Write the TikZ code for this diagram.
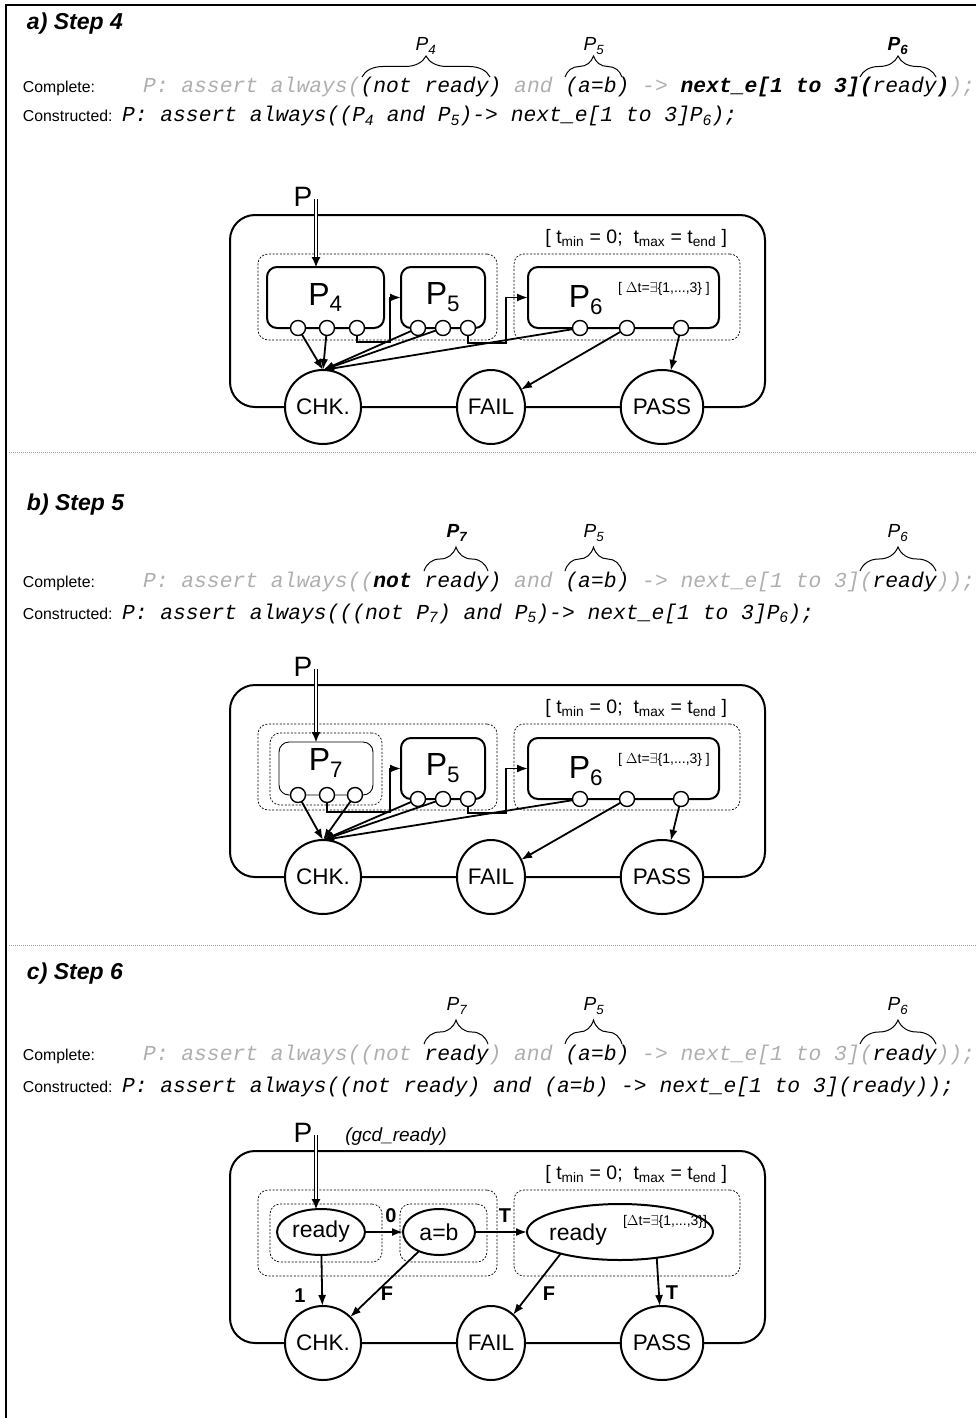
\documentclass[tikz,border=0pt]{standalone}
\usepackage{fontspec}
\setmainfont{Liberation Sans}
\setmonofont{Liberation Mono}
\usetikzlibrary{arrows.meta,shapes.geometric,decorations.pathreplacing}

\definecolor{codegray}{RGB}{175,175,175}
\definecolor{sepgray}{RGB}{150,150,150}
\newcommand{\gr}[1]{{\color{codegray}\relax#1}}
\newcommand{\sub}[1]{\textsubscript{\rmfamily #1}}
\frenchspacing

\begin{document}
\begin{tikzpicture}[x=1pt,y=-1pt,
    every node/.style={inner sep=0pt,outer sep=0pt},
    head/.style={font=\fontsize{23}{26}\selectfont\bfseries\itshape,anchor=base west},
    txt/.style={font=\fontsize{15.8}{18}\selectfont,anchor=base west},
    cod/.style={font=\fontsize{21.33}{24}\selectfont\ttfamily\itshape,anchor=base west},
    brl/.style={font=\fontsize{19}{21}\selectfont\itshape},
    br/.style={decorate,decoration={brace,amplitude=24pt},line width=1pt},
    outer/.style={draw,line width=2pt,rounded corners=25pt},
    tlbl/.style={font=\fontsize{19.5}{21}\selectfont,anchor=east},
    grp/.style={draw,line width=0.7pt,dash pattern=on 2pt off 1.6pt,rounded corners=10pt},
    blk/.style={draw,line width=2pt,rounded corners=10pt,font=\fontsize{32}{34}\selectfont},
    blkt/.style={font=\fontsize{32}{34}\selectfont},
    dtl/.style={font=\fontsize{14}{15}\selectfont},
    port/.style={circle,draw,fill=white,line width=1.4pt,minimum size=15pt},
    state/.style={ellipse,draw,fill=white,line width=2pt,minimum width=68pt,minimum height=74pt,font=\fontsize{22.5}{25}\selectfont},
    cond/.style={ellipse,draw,line width=2pt},
    etxt/.style={font=\fontsize{23}{26}\selectfont},
    bigp/.style={font=\fontsize{28}{30}\selectfont},
    con/.style={line width=1.8pt,-{Latex[length=11pt,width=8pt]}},
    feed/.style={double,double distance=2.4pt,line width=0.9pt,-{Latex[length=10pt,width=9pt]}},
    tag/.style={font=\fontsize{20}{22}\selectfont\bfseries},
    sep/.style={sepgray,line width=0.8pt,dash pattern=on 1pt off 1pt}]
  \useasboundingbox (0,0) rectangle (976,1418);

  % frame and separators
  \draw[line width=2pt] (6,1418) -- (6,5) -- (976,5);
  \draw[sep] (9,452) -- (976,452);
  \draw[sep] (9,945) -- (976,945);

  % common part of the three checkers
  \foreach \s/\dy in {a/0,b/470,c/936}{
    \begin{scope}[shift={(0,\dy)}]
      \draw[outer] (230,215) rectangle (765,407);
      \node[tlbl] (tm\s) at (727,238) {[ t\textsubscript{min} = 0;\ \ t\textsubscript{max} = t\textsubscript{end} ]};
      \node[grp,minimum width=239pt,minimum height=86pt] (gl\s) at (377.5,297) {};
      \node[grp,minimum width=226pt,minimum height=86pt] (gr\s) at (627,297) {};
      \node[state] (chk\s) at (323,407) {CHK.};
      \node[state] (fail\s) at (491,407) {FAIL};
      \node[state] (pass\s) at (662,407) {PASS};
      \node[bigp] (p\s) at (303,197) {P};
      \coordinate (in\s) at (316,199);
    \end{scope}
  }

  % a) Step 4
  \node[head] (hda) at (27,30) {a) Step 4};
  \node[txt] (cpa) at (23,93) {Complete:};
  \node[cod] (cca) at (143,93) {\gr{P: assert always(}(not ready)\gr{ and }(a=b)\gr{ -> }\textbf{next\_e[1 to 3](}ready\textbf{)}\gr{);}};
  \node[txt] (csa) at (23,122) {Constructed:};
  \node[cod] (cra) at (122,122) {P: assert always((P\sub{4} and P\sub{5})-> next\_e[1 to 3]P\sub{6});};
  \draw[br,decoration={amplitude=21pt}] (362,77) -- (490,77);
  \draw[br,decoration={amplitude=21pt}] (565,77) -- (622,77);
  \draw[br,decoration={amplitude=21pt}] (860,77) -- (936,77);
  \node[brl] (la4) at (426,46) {P\sub{4}};
  \node[brl] (la5) at (594,46) {P\sub{5}};
  \node[brl,font=\fontsize{19}{21}\selectfont\bfseries\itshape] (la6) at (898,46) {P\sub{6}};

  \node[blk,minimum width=117pt,minimum height=61pt] (b4a) at (325.5,297.5) {P\textsubscript{4}};
  \node[blk,minimum width=84pt,minimum height=61pt] (b5a) at (443,297.5) {P\textsubscript{5}};
  \node[blk,minimum width=191pt,minimum height=61pt] (b6a) at (623.5,297.5) {};
  \node[blkt] (t6a) at (586,300) {P\textsubscript{6}};
  \node[dtl] (d6a) at (664,289) {[ $\Delta$t=$\exists$\{1,...,3\} ]};
  \foreach \i/\x in {1/298,2/327,3/357} \node[port] (a4\i) at (\x,328) {};
  \foreach \i/\x in {1/418,2/443,3/468} \node[port] (a5\i) at (\x,328) {};
  \foreach \i/\x in {1/580,2/627,3/681} \node[port] (a6\i) at (\x,328) {};

  \draw[feed] (ina) -- (ina |- b4a.north);
  \draw[con] (a43.south) |- (390,342) |- (b5a.west);
  \draw[con] (a53.south) |- (506,343) |- (b6a.west);
  \foreach \n in {a41,a42,a51,a52,a61} \draw[con] (\n) -- (chka.north);
  \draw[con] (a62) -- (faila);
  \draw[con] (a63) -- (passa);

  % b) Step 5
  \node[head] (hdb) at (27,510) {b) Step 5};
  \node[txt] (cpb) at (23,587) {Complete:};
  \node[cod] (ccb) at (143,587) {\gr{P: assert always((}\textbf{not} ready)\gr{ and }(a=b)\gr{ -> next\_e[1 to 3](}ready\gr{));}};
  \node[txt] (csb) at (23,619) {Constructed:};
  \node[cod] (crb) at (122,619) {P: assert always(((not P\sub{7}) and P\sub{5})-> next\_e[1 to 3]P\sub{6});};
  \draw[br] (424,571) -- (488,571);
  \draw[br] (565,571) -- (622,571);
  \draw[br] (860,571) -- (936,571);
  \node[brl,font=\fontsize{19}{21}\selectfont\bfseries\itshape] (lb7) at (457,533) {P\sub{7}};
  \node[brl] (lb5) at (594,533) {P\sub{5}};
  \node[brl] (lb6) at (898,533) {P\sub{6}};

  \begin{scope}[shift={(0,470)}]
    \node[grp,minimum width=112pt,minimum height=72pt] (g7b) at (326,299) {};
    \node[blk,line width=0.9pt,minimum width=94pt,minimum height=53pt] (b7b) at (326,298.5) {};
    \node[blkt] (t7b) at (326,293) {P\textsubscript{7}};
    \node[blk,minimum width=84pt,minimum height=61pt] (b5b) at (443,298.5) {P\textsubscript{5}};
    \node[blk,minimum width=191pt,minimum height=61pt] (b6b) at (623.5,298.5) {};
    \node[blkt] (t6b) at (586,301) {P\textsubscript{6}};
    \node[dtl] (d6b) at (664,290) {[ $\Delta$t=$\exists$\{1,...,3\} ]};
    \foreach \i/\x in {1/298,2/327,3/355} \node[port] (b7\i) at (\x,325) {};
    \foreach \i/\x in {1/418,2/443,3/468} \node[port] (b5\i) at (\x,329) {};
    \foreach \i/\x in {1/580,2/627,3/681} \node[port] (b6\i) at (\x,329) {};
  \end{scope}

  \draw[feed] (inb) -- (inb |- b7b.north);
  \draw[con] (b72.south) |- (390,812) |- (b5b.west);
  \draw[con] (b53.south) |- (506,813) |- (b6b.west);
  \foreach \n in {b71,b73,b51,b52,b61} \draw[con] (\n) -- (chkb.north);
  \draw[con] (b62) -- (failb);
  \draw[con] (b63) -- (passb);

  % c) Step 6
  \node[head] (hdc) at (27,979) {c) Step 6};
  \node[txt] (cpc) at (23,1060) {Complete:};
  \node[cod] (ccc) at (143,1060) {\gr{P: assert always((not }ready\gr{) and }(a=b)\gr{ -> next\_e[1 to 3](}ready\gr{));}};
  \node[txt] (csc) at (23,1092) {Constructed:};
  \node[cod] (crc) at (122,1092) {P: assert always((not ready) and (a=b) -> next\_e[1 to 3](ready));};
  \draw[br] (424,1044) -- (488,1044);
  \draw[br] (565,1044) -- (622,1044);
  \draw[br] (860,1044) -- (936,1044);
  \node[brl] (lc7) at (457,1006) {P\sub{7}};
  \node[brl] (lc5) at (594,1006) {P\sub{5}};
  \node[brl] (lc6) at (898,1006) {P\sub{6}};

  \begin{scope}[shift={(0,936)}]
    \node[grp,minimum width=112pt,minimum height=58pt] (grdc) at (326,297) {};
    \node[grp,minimum width=87pt,minimum height=58pt] (geqc) at (443.5,297) {};
    \node[cond,minimum width=88pt,minimum height=46pt] (rdyc) at (321,296) {};
    \node[etxt] (trdyc) at (321,296) {ready};
    \node[cond,minimum width=72pt,minimum height=46pt] (eqc) at (439,296) {};
    \node[etxt] (teqc) at (439,296) {a=b};
    \node[cond,minimum width=186pt,minimum height=56pt] (bigc) at (620,296) {};
    \node[etxt] (tbigc) at (578,299) {ready};
    \node[dtl] (dbigc) at (665,286) {[$\Delta$t=$\exists$\{1,...,3\}]};
    \node[brl] (gcd) at (396,201) {(gcd\_ready)};
    \node[tag] (l0) at (391,280) {0};
    \node[tag] (lt1) at (505,280) {T};
    \node[tag] (l1) at (300,360) {1};
    \node[tag] (lf1) at (387,358) {F};
    \node[tag] (lf2) at (549,358) {F};
    \node[tag] (lt2) at (672,357) {T};
  \end{scope}

  \draw[feed] (inc) -- (inc |- rdyc.north);
  \draw[con] (rdyc) -- (eqc);
  \draw[con] (eqc) -- (bigc);
  \draw[con] (rdyc) -- (chkc);
  \draw[con] (eqc) -- (chkc);
  \draw[con] (bigc.200) -- (failc);
  \draw[con] (bigc.325) -- (passc);
\end{tikzpicture}
\end{document}
